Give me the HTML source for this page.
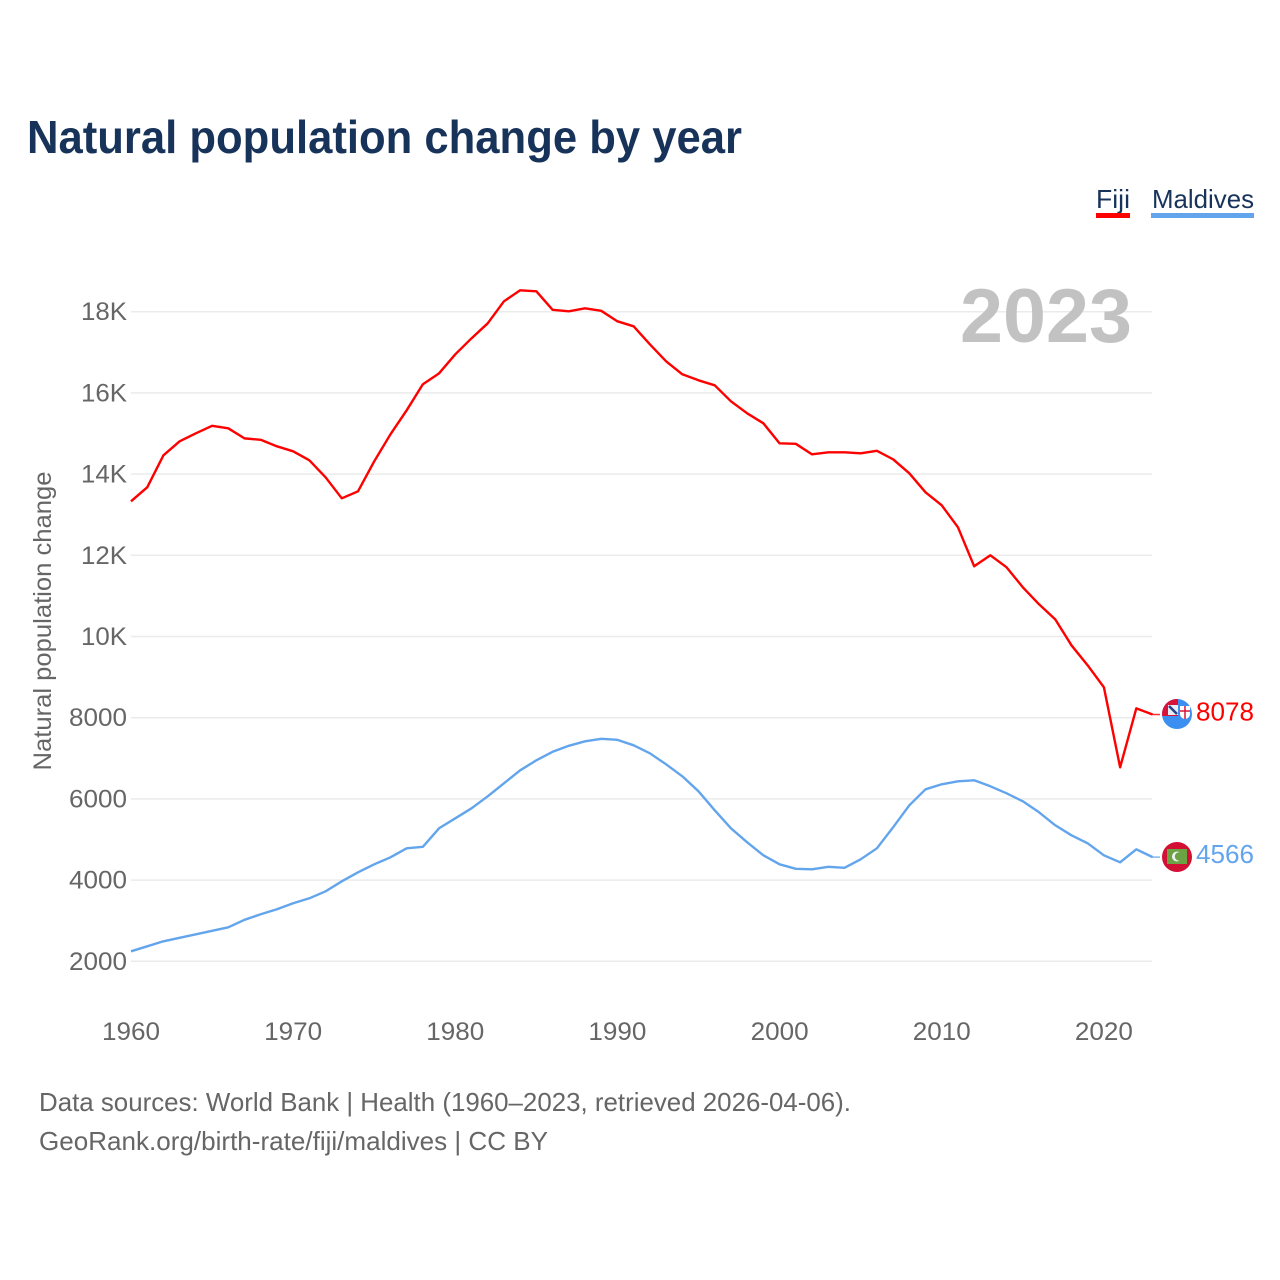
<!DOCTYPE html>
<html lang="en">
<head>
<meta charset="utf-8">
<title>Natural population change by year</title>
<style>
html,body{margin:0;padding:0;background:#fff;width:1280px;height:1280px;overflow:hidden}
svg{display:block}
text{font-family:"Liberation Sans",sans-serif}
</style>
</head>
<body>
<svg id="chart" xmlns="http://www.w3.org/2000/svg" width="1280" height="1280" viewBox="0 0 1280 1280">
  <rect x="0" y="0" width="1280" height="1280" fill="#fff"/>
  <text x="27" y="153" font-size="46" font-weight="700" fill="#17335a" textLength="715" lengthAdjust="spacingAndGlyphs">Natural population change by year</text>

  <g>
    <text x="1096" y="208" font-size="26" fill="#17335a" textLength="34" lengthAdjust="spacingAndGlyphs">Fiji</text>
    <rect x="1096" y="213" width="34" height="5" fill="#ff0000"/>
  </g>
  <g>
    <text x="1152" y="208" font-size="26" fill="#17335a" textLength="102" lengthAdjust="spacingAndGlyphs">Maldives</text>
    <rect x="1151" y="213" width="103" height="5" fill="#63a5ec"/>
  </g>

  <g id="grid"></g>
  <text x="1132" y="342" font-size="76" font-weight="700" fill="#c2c2c2" text-anchor="end" textLength="172" lengthAdjust="spacingAndGlyphs">2023</text>
  <g id="yticks"></g>
  <g id="xticks"></g>
  <text transform="translate(51,621) rotate(-90)" font-size="25" fill="#666" text-anchor="middle" textLength="299" lengthAdjust="spacingAndGlyphs">Natural population change</text>
  <g id="series"></g>

  <defs>
    <clipPath id="fiji-clip"><circle cx="1177" cy="714" r="15"/></clipPath>
    <clipPath id="mv-clip"><circle cx="1177" cy="857" r="15"/></clipPath>
  </defs>
  <g id="fiji-flag" clip-path="url(#fiji-clip)">
    <rect x="1162" y="699" width="30" height="30" fill="#3a8ff0"/>
    <rect x="1162" y="699" width="16" height="17" fill="#d8133a"/>
    <rect x="1168" y="705" width="10" height="10" fill="#e9edf5"/>
    <path d="M1169 706L1177 714" stroke="#27408b" stroke-width="2.500"/>
    <path d="M1180 706h10v8a5 5 0 0 1-10 0z" fill="#fff"/>
    <path d="M1185 706v13M1180 711h10" stroke="#d8133a" stroke-width="1.500"/>
  </g>
  <g id="maldives-flag" clip-path="url(#mv-clip)">
    <rect x="1162" y="842" width="30" height="30" fill="#d21034"/>
    <rect x="1167" y="849" width="20" height="15" fill="#6aa244"/>
    <circle cx="1177" cy="856.500" r="5" fill="#f2f2f2"/>
    <circle cx="1179" cy="856.500" r="4.200" fill="#6aa244"/>
  </g>
  <text id="fiji-end" x="1196" y="720" font-size="26" fill="#ff0000" textLength="58" lengthAdjust="spacingAndGlyphs"></text>
  <text id="mv-end" x="1196" y="863" font-size="26" fill="#63a5ec" textLength="58" lengthAdjust="spacingAndGlyphs"></text>

  <text x="39" y="1111" font-size="26" fill="#666" textLength="812" lengthAdjust="spacingAndGlyphs">Data sources: World Bank | Health (1960–2023, retrieved 2026-04-06).</text>
  <text x="39" y="1150" font-size="26" fill="#666" textLength="509" lengthAdjust="spacingAndGlyphs">GeoRank.org/birth-rate/fiji/maldives | CC BY</text>
</svg>
<script>
const startYear = 1960;
const fijiValues = [13330,13675,14463,14808,15005,15189,15128,14880,14845,14684,14561,14340,13921,13404,13576,14315,14980,15571,16212,16482,16950,17344,17714,18256,18527,18502,18046,18010,18083,18022,17763,17640,17196,16778,16458,16310,16187,15793,15497,15251,14758,14746,14487,14537,14537,14512,14573,14364,14019,13551,13231,12689,11729,12000,11704,11212,10793,10423,9783,9290,8749,6778,8231,8078];
const maldivesValues = [2246,2369,2493,2579,2665,2751,2837,3022,3158,3281,3429,3552,3724,3970,4192,4389,4561,4783,4820,5276,5522,5768,6064,6384,6704,6951,7160,7308,7419,7480,7455,7320,7123,6852,6557,6187,5719,5276,4931,4611,4389,4278,4266,4328,4303,4512,4783,5300,5842,6236,6360,6433,6458,6310,6138,5941,5670,5350,5103,4906,4611,4438,4759,4566];
const yTickValues = [2000,4000,6000,8000,10000,12000,14000,16000,18000];
const yTickLabels = ['2000','4000','6000','8000','10K','12K','14K','16K','18K'];
const xTickYears = [1960,1970,1980,1990,2000,2010,2020];

const NS = 'http://www.w3.org/2000/svg';
const xScale = function (year) { return 131 + (year - 1960) * 16.215; };
const yScale = function (value) { return 961.3 - (value - 2000) * 0.0406; };

function make(tag, parent, attrs, content) {
  const el = document.createElementNS(NS, tag);
  Object.keys(attrs).forEach(function (k) { el.setAttribute(k, attrs[k]); });
  if (content !== undefined) el.textContent = content;
  parent.appendChild(el);
  return el;
}

const grid = document.getElementById('grid');
const yticks = document.getElementById('yticks');
yTickValues.forEach(function (v, i) {
  const line = make('line', grid, {x1: 131, x2: 1152, y1: yScale(v), y2: yScale(v), stroke: '#ebebeb', 'stroke-width': 1.5});
  
  
  const label = make('text', yticks, {x: 127, y: yScale(v) + 8.5, 'font-size': 25, fill: '#666', 'text-anchor': 'end', textLength: yTickLabels[i].length === 4 ? 58 : 46, lengthAdjust: 'spacingAndGlyphs'}, yTickLabels[i]);
  
  
});

const xticks = document.getElementById('xticks');
xTickYears.forEach(function (year) {
  const label = make('text', xticks, {x: xScale(year), y: 1040, 'font-size': 25, fill: '#666', 'text-anchor': 'middle', textLength: 58, lengthAdjust: 'spacingAndGlyphs'}, String(year));
  
  
});

function drawSeries(values, color, name) {
  const group = document.getElementById('series');
  const pts = values.map(function (v, i) { return xScale(startYear + i).toFixed(2) + ',' + yScale(v).toFixed(2); });
  const line = make('polyline', group, {points: pts.join(' '), fill: 'none', stroke: color, 'stroke-width': 2.4, 'stroke-linejoin': 'round'});
  
  
  const lastY = yScale(values[values.length - 1]);
  const connector = make('line', group, {x1: 1152.5, x2: 1160, y1: lastY, y2: lastY, stroke: color, 'stroke-width': 1.5, opacity: 0.8});
  
  
}
drawSeries(fijiValues, '#ff0000', 'fiji-line');
drawSeries(maldivesValues, '#63a5ec', 'maldives-line');

const fijiLast = fijiValues[fijiValues.length - 1];
const mvLast = maldivesValues[maldivesValues.length - 1];
const fijiEnd = document.getElementById('fiji-end');
fijiEnd.textContent = String(fijiLast);
fijiEnd.setAttribute('y', yScale(fijiLast) + 6);
const mvEnd = document.getElementById('mv-end');
mvEnd.textContent = String(mvLast);
mvEnd.setAttribute('y', yScale(mvLast) + 6);
</script>
</body>
</html>
